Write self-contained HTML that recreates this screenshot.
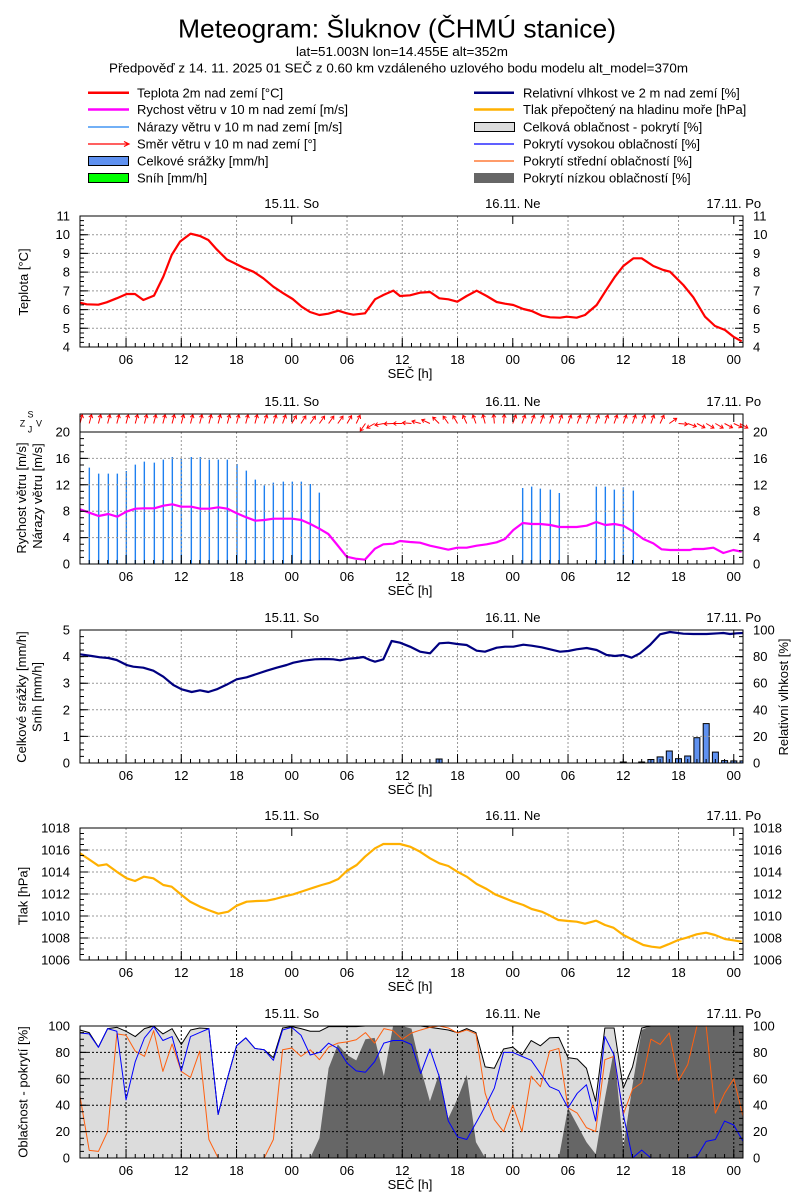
<!DOCTYPE html>
<html><head><meta charset="utf-8"><style>
html,body{margin:0;padding:0;background:#fff;}
svg{display:block;}
text{font-family:"Liberation Sans",Arial,sans-serif;fill:#000;}
.t13{font-size:13px;}
.yl{font-size:13px;text-anchor:end;}
.yr{font-size:13px;text-anchor:start;}
.xl{font-size:13px;text-anchor:middle;}
.nss{vector-effect:non-scaling-stroke;}
</style></head><body>
<svg width="800" height="1200" viewBox="0 0 800 1200" xmlns="http://www.w3.org/2000/svg">
<defs>
<g id="xb" stroke="#000" fill="none">
<line x1="80" y1="-2" x2="743" y2="-2" stroke-width="4" stroke-dasharray="1 8.208" stroke-dashoffset="0.5"/>
<line x1="80" y1="-4.5" x2="743" y2="-4.5" stroke-width="9" stroke-dasharray="1 54.248" stroke-dashoffset="9.708"/>
</g>
<path id="xt" d="M291.78,0v8M512.78,0v8M733.77,0v8" stroke="#000" fill="none"/>
<g id="xlab">
<text class="xl" x="126.04">06</text><text class="xl" x="181.29">12</text><text class="xl" x="236.54">18</text><text class="xl" x="291.78">00</text><text class="xl" x="347.03">06</text><text class="xl" x="402.28">12</text><text class="xl" x="457.53">18</text><text class="xl" x="512.78">00</text><text class="xl" x="568.02">06</text><text class="xl" x="623.27">12</text><text class="xl" x="678.52">18</text><text class="xl" x="733.77">00</text>
<text class="xl" x="410" y="14">SEČ [h]</text>
</g>
<g id="dlab">
<text class="xl" x="291.78">15.11. So</text><text class="xl" x="512.78">16.11. Ne</text><text class="xl" x="733.77">17.11. Po</text>
</g>
<path id="ar" d="M0,0V-9M-2,-6L0,-9L2,-6" stroke="#f00" stroke-width="1" fill="none"/>
</defs>
<rect width="800" height="1200" fill="#fff"/>

<!-- Header -->
<text x="397" y="37.5" style="font-size:26px" text-anchor="middle" textLength="438" lengthAdjust="spacingAndGlyphs">Meteogram: Šluknov (ČHMÚ stanice)</text>
<text x="402" y="56" class="t13" text-anchor="middle" textLength="212" lengthAdjust="spacingAndGlyphs">lat=51.003N lon=14.455E alt=352m</text>
<text x="398.5" y="72.5" class="t13" text-anchor="middle" textLength="579" lengthAdjust="spacingAndGlyphs">Předpověď z 14. 11. 2025 01 SEČ z 0.60 km vzdáleného uzlového bodu modelu alt_model=370m</text>

<!-- Legend -->
<g class="t13">
<line x1="88" y1="92.7" x2="129" y2="92.7" stroke="#f00" stroke-width="2.5"/>
<text x="137" y="97.3">Teplota 2m nad zemí [°C]</text>
<line x1="88" y1="109.5" x2="129" y2="109.5" stroke="#f0f" stroke-width="2.5"/>
<text x="137" y="114">Rychost větru v 10 m nad zemí [m/s]</text>
<line x1="88" y1="127" x2="129" y2="127" stroke="#1e80f0" stroke-width="1.2"/>
<text x="137" y="131.5">Nárazy větru v 10 m nad zemí [m/s]</text>
<path d="M88,144H128M124,141.5L129,144L124,146.5" stroke="#f00" stroke-width="1.2" fill="none"/>
<text x="137" y="148.5">Směr větru v 10 m nad zemí [°]</text>
<rect x="88.5" y="156.5" width="40" height="9" fill="#5f91f0" stroke="#000"/>
<text x="137" y="165.5">Celkové srážky [mm/h]</text>
<rect x="88.5" y="173.5" width="40" height="9" fill="#00ff00" stroke="#000"/>
<text x="137" y="182.5">Sníh [mm/h]</text>

<line x1="474" y1="92.7" x2="514" y2="92.7" stroke="#000080" stroke-width="2.5"/>
<text x="523" y="97.3">Relativní vlhkost ve 2 m nad zemí [%]</text>
<line x1="474" y1="109.5" x2="514" y2="109.5" stroke="#ffb000" stroke-width="2.5"/>
<text x="523" y="114">Tlak přepočtený na hladinu moře [hPa]</text>
<rect x="474.5" y="122.5" width="40" height="9" fill="#dcdcdc" stroke="#000"/>
<text x="523" y="131.5">Celková oblačnost - pokrytí [%]</text>
<line x1="474" y1="144" x2="514" y2="144" stroke="#0000ff" stroke-width="1.2"/>
<text x="523" y="148.5">Pokrytí vysokou oblačností [%]</text>
<line x1="474" y1="161" x2="514" y2="161" stroke="#ff6010" stroke-width="1.2"/>
<text x="523" y="165.5">Pokrytí střední oblačností [%]</text>
<rect x="474" y="173" width="40" height="10" fill="#666"/>
<text x="523" y="182.5">Pokrytí nízkou oblačností [%]</text>
</g>

<!-- ============ PANEL 1: Temperature ============ -->
<path d="M80,328.29H743M80,309.57H743M80,290.86H743M80,272.14H743M80,253.43H743M80,234.71H743M126.04,216V347M181.29,216V347M236.54,216V347M347.03,216V347M402.28,216V347M457.53,216V347M568.02,216V347M623.27,216V347M678.52,216V347" stroke="#999" stroke-dasharray="2 2" fill="none"/>
<g transform="translate(0,190) scale(0.333333)">
<polyline class="nss" fill="none" stroke="#f00" stroke-width="2.2" stroke-linejoin="round" points="240,338 260,343 295,344 320,337 350,325 380,312 405,312 430,330 462,317 490,260 515,195 540,155 572,131 600,138 625,150 650,178 680,208 700,218 730,233 760,245 790,265 820,290 850,310 878,327 905,350 930,366 958,375 985,371 1015,362 1040,370 1060,374 1095,370 1125,328 1150,315 1180,302 1200,318 1230,316 1260,308 1290,306 1318,325 1345,328 1372,335 1400,318 1430,302 1460,318 1490,336 1515,341 1540,345 1570,357 1595,363 1625,377 1650,382 1680,383 1700,380 1730,383 1755,375 1790,345 1820,298 1845,260 1870,228 1900,205 1925,205 1960,228 1990,240 2010,245 2050,285 2080,322 2115,380 2145,408 2175,420 2200,440 2225,454"/>
</g>
<rect x="80" y="216" width="663" height="131" fill="none" stroke="#000"/>
<use href="#xb" y="347"/><use href="#xt" y="216"/>
<g stroke="#000" fill="none">
<line x1="82" y1="347" x2="82" y2="216" stroke-width="4" stroke-dasharray="1 3.6785" stroke-dashoffset="0.5"/>
<line x1="84" y1="347" x2="84" y2="216" stroke-width="8" stroke-dasharray="1 17.714" stroke-dashoffset="0.5"/>
<line x1="741" y1="347" x2="741" y2="216" stroke-width="4" stroke-dasharray="1 3.6785" stroke-dashoffset="0.5"/>
<line x1="739" y1="347" x2="739" y2="216" stroke-width="8" stroke-dasharray="1 17.714" stroke-dashoffset="0.5"/>
</g>
<g>
<text class="yl" x="70" y="351.5">4</text><text class="yl" x="70" y="332.8">5</text><text class="yl" x="70" y="314.1">6</text><text class="yl" x="70" y="295.4">7</text><text class="yl" x="70" y="276.6">8</text><text class="yl" x="70" y="257.9">9</text><text class="yl" x="70" y="239.2">10</text><text class="yl" x="70" y="220.5">11</text>
<text class="yr" x="753" y="351.5">4</text><text class="yr" x="753" y="332.8">5</text><text class="yr" x="753" y="314.1">6</text><text class="yr" x="753" y="295.4">7</text><text class="yr" x="753" y="276.6">8</text><text class="yr" x="753" y="257.9">9</text><text class="yr" x="753" y="239.2">10</text><text class="yr" x="753" y="220.5">11</text>
</g>
<use href="#xlab" y="364"/><use href="#dlab" y="208"/>
<text class="t13" text-anchor="middle" transform="translate(28,282) rotate(-90)">Teplota [°C]</text>

<!-- ============ PANEL 2: Wind ============ -->
<g transform="translate(0,390) scale(0.333333)">
<path class="nss" stroke="#1e80f0" stroke-width="1.4" fill="none" d="M268,522V233M296,522V251M325,522V251M352,522V251M379,522V243M406,522V224M433,522V215M463,522V218M490,522V209M517,522V201M544,522V207M574,522V201M601,522V201M628,522V209M655,522V209M682,522V209M711,522V222M739,522V242M766,522V269M793,522V286M820,522V278M850,522V275M877,522V275M904,522V275M931,522V282M958,522V308M1568,522V294M1595,522V290M1621,522V296M1651,522V299M1678,522V309M1789,522V290M1816,522V290M1843,522V299M1870,522V292M1900,522V302"/>
</g>
<path d="M80,537.6H743M80,511.2H743M80,484.8H743M80,458.4H743M126.04,432V564M181.29,432V564M236.54,432V564M347.03,432V564M402.28,432V564M457.53,432V564M568.02,432V564M623.27,432V564M678.52,432V564" stroke="#999" stroke-dasharray="2 2" fill="none"/>
<g transform="translate(0,390) scale(0.333333)">
<polyline class="nss" fill="none" stroke="#f0f" stroke-width="2.2" stroke-linejoin="round" points="240,358 268,368 296,378 325,372 352,380 379,365 406,356 433,355 463,355 490,347 517,343 544,350 574,350 601,356 628,356 655,352 682,356 711,370 739,382 766,392 793,390 820,386 850,386 877,386 904,390 931,402 958,416 985,432 1012,465 1040,500 1067,506 1095,509 1125,476 1150,463 1180,461 1200,453 1230,456 1260,458 1290,467 1318,473 1345,479 1372,473 1400,473 1430,467 1460,463 1490,457 1515,447 1540,420 1568,399 1595,402 1621,402 1651,405 1678,411 1705,411 1730,411 1760,407 1789,396 1816,405 1843,402 1870,407 1900,425 1930,447 1960,460 1985,478 2010,480 2040,480 2070,480 2080,477 2110,477 2140,473 2170,489 2200,480 2225,485"/>
</g>
<!-- wind arrows -->
<g>
<use href="#ar" transform="translate(80,423.5) rotate(15)"/>
<use href="#ar" transform="translate(89.21,423.5) rotate(15)"/>
<use href="#ar" transform="translate(98.42,423.5) rotate(15)"/>
<use href="#ar" transform="translate(107.62,423.5) rotate(15)"/>
<use href="#ar" transform="translate(116.83,423.5) rotate(15)"/>
<use href="#ar" transform="translate(126.04,423.5) rotate(15)"/>
<use href="#ar" transform="translate(135.25,423.5) rotate(15)"/>
<use href="#ar" transform="translate(144.46,423.5) rotate(15)"/>
<use href="#ar" transform="translate(153.66,423.5) rotate(15)"/>
<use href="#ar" transform="translate(162.87,423.5) rotate(15)"/>
<use href="#ar" transform="translate(172.08,423.5) rotate(15)"/>
<use href="#ar" transform="translate(181.29,423.5) rotate(15)"/>
<use href="#ar" transform="translate(190.50,423.5) rotate(15)"/>
<use href="#ar" transform="translate(199.70,423.5) rotate(15)"/>
<use href="#ar" transform="translate(208.91,423.5) rotate(15)"/>
<use href="#ar" transform="translate(218.12,423.5) rotate(15)"/>
<use href="#ar" transform="translate(227.33,423.5) rotate(15)"/>
<use href="#ar" transform="translate(236.54,423.5) rotate(15)"/>
<use href="#ar" transform="translate(245.74,423.5) rotate(15)"/>
<use href="#ar" transform="translate(254.95,423.5) rotate(15)"/>
<use href="#ar" transform="translate(264.16,423.5) rotate(18)"/>
<use href="#ar" transform="translate(273.37,423.5) rotate(18)"/>
<use href="#ar" transform="translate(282.58,423.5) rotate(20)"/>
<use href="#ar" transform="translate(291.78,423.5) rotate(30)"/>
<use href="#ar" transform="translate(300.99,423.5) rotate(32)"/>
<use href="#ar" transform="translate(310.20,423.5) rotate(35)"/>
<use href="#ar" transform="translate(319.41,423.5) rotate(35)"/>
<use href="#ar" transform="translate(328.62,423.5) rotate(35)"/>
<use href="#ar" transform="translate(337.82,423.5) rotate(35)"/>
<use href="#ar" transform="translate(347.03,423.5) rotate(30)"/>
<use href="#ar" transform="translate(356.24,423.5) rotate(25)"/>
<use href="#ar" transform="translate(365.45,423.5) rotate(215)"/>
<use href="#ar" transform="translate(374.66,423.5) rotate(240)"/>
<use href="#ar" transform="translate(383.86,423.5) rotate(260)"/>
<use href="#ar" transform="translate(393.07,423.5) rotate(268)"/>
<use href="#ar" transform="translate(402.28,423.5) rotate(270)"/>
<use href="#ar" transform="translate(411.49,423.5) rotate(275)"/>
<use href="#ar" transform="translate(420.70,423.5) rotate(285)"/>
<use href="#ar" transform="translate(429.90,423.5) rotate(295)"/>
<use href="#ar" transform="translate(439.11,423.5) rotate(315)"/>
<use href="#ar" transform="translate(448.32,423.5) rotate(325)"/>
<use href="#ar" transform="translate(457.53,423.5) rotate(330)"/>
<use href="#ar" transform="translate(466.74,423.5) rotate(335)"/>
<use href="#ar" transform="translate(475.94,423.5) rotate(340)"/>
<use href="#ar" transform="translate(485.15,423.5) rotate(345)"/>
<use href="#ar" transform="translate(494.36,423.5) rotate(355)"/>
<use href="#ar" transform="translate(503.57,423.5) rotate(5)"/>
<use href="#ar" transform="translate(512.78,423.5) rotate(20)"/>
<use href="#ar" transform="translate(521.98,423.5) rotate(20)"/>
<use href="#ar" transform="translate(531.19,423.5) rotate(20)"/>
<use href="#ar" transform="translate(540.40,423.5) rotate(20)"/>
<use href="#ar" transform="translate(549.61,423.5) rotate(20)"/>
<use href="#ar" transform="translate(558.82,423.5) rotate(20)"/>
<use href="#ar" transform="translate(568.02,423.5) rotate(20)"/>
<use href="#ar" transform="translate(577.23,423.5) rotate(20)"/>
<use href="#ar" transform="translate(586.44,423.5) rotate(20)"/>
<use href="#ar" transform="translate(595.65,423.5) rotate(20)"/>
<use href="#ar" transform="translate(604.86,423.5) rotate(20)"/>
<use href="#ar" transform="translate(614.06,423.5) rotate(20)"/>
<use href="#ar" transform="translate(623.27,423.5) rotate(20)"/>
<use href="#ar" transform="translate(632.48,423.5) rotate(20)"/>
<use href="#ar" transform="translate(641.69,423.5) rotate(20)"/>
<use href="#ar" transform="translate(650.90,423.5) rotate(20)"/>
<use href="#ar" transform="translate(660.10,423.5) rotate(25)"/>
<use href="#ar" transform="translate(669.31,423.5) rotate(55)"/>
<use href="#ar" transform="translate(678.52,423.5) rotate(95)"/>
<use href="#ar" transform="translate(687.73,423.5) rotate(110)"/>
<use href="#ar" transform="translate(696.94,423.5) rotate(118)"/>
<use href="#ar" transform="translate(706.14,423.5) rotate(120)"/>
<use href="#ar" transform="translate(715.35,423.5) rotate(120)"/>
<use href="#ar" transform="translate(724.56,423.5) rotate(118)"/>
<use href="#ar" transform="translate(733.77,423.5) rotate(115)"/>
<use href="#ar" transform="translate(740,423.5) rotate(120)"/>
</g>
<rect x="80" y="414" width="663" height="150" fill="none" stroke="#000"/>
<line x1="80" y1="432" x2="743" y2="432" stroke="#000"/>
<use href="#xb" y="564"/><use href="#xt" y="414"/>
<g stroke="#000" fill="none">
<line x1="82" y1="564" x2="82" y2="432" stroke-width="4" stroke-dasharray="1 5.6" stroke-dashoffset="0.5"/>
<line x1="84" y1="564" x2="84" y2="432" stroke-width="8" stroke-dasharray="1 25.4" stroke-dashoffset="0.5"/>
<line x1="741" y1="564" x2="741" y2="432" stroke-width="4" stroke-dasharray="1 5.6" stroke-dashoffset="0.5"/>
<line x1="739" y1="564" x2="739" y2="432" stroke-width="8" stroke-dasharray="1 25.4" stroke-dashoffset="0.5"/>
</g>
<g>
<text class="yl" x="70" y="568.5">0</text><text class="yl" x="70" y="542.1">4</text><text class="yl" x="70" y="515.7">8</text><text class="yl" x="70" y="489.3">12</text><text class="yl" x="70" y="462.9">16</text><text class="yl" x="70" y="436.5">20</text>
<text class="yr" x="753" y="568.5">0</text><text class="yr" x="753" y="542.1">4</text><text class="yr" x="753" y="515.7">8</text><text class="yr" x="753" y="489.3">12</text><text class="yr" x="753" y="462.9">16</text><text class="yr" x="753" y="436.5">20</text>
</g>
<use href="#xlab" y="581"/><use href="#dlab" y="406"/>
<g style="font-size:9px" text-anchor="middle">
<text x="30.5" y="417.5">S</text><text x="22.5" y="426.5">Z</text><text x="30" y="432.5">J</text><text x="39" y="426.5">V</text>
</g>
<text class="t13" text-anchor="middle" transform="translate(26,498) rotate(-90)">Rychost větru [m/s]</text>
<text class="t13" text-anchor="middle" transform="translate(42,496) rotate(-90)">Nárazy větru [m/s]</text>

<!-- ============ PANEL 3: Precip / RH ============ -->
<g fill="#5f91f0" stroke="#000" stroke-width="1">
<rect x="436.1" y="759" width="6" height="4"/>
<rect x="620.3" y="762" width="6" height="1"/>
<rect x="638.7" y="762" width="6" height="1"/>
<rect x="647.9" y="759.5" width="6" height="3.5"/>
<rect x="657.1" y="756.9" width="6" height="6.1"/>
<rect x="666.3" y="751" width="6" height="12"/>
<rect x="675.5" y="758.7" width="6" height="4.3"/>
<rect x="684.7" y="756" width="6" height="7"/>
<rect x="693.9" y="737.7" width="6" height="25.3"/>
<rect x="703.2" y="723.6" width="6" height="39.4"/>
<rect x="712.4" y="752.1" width="6" height="10.9"/>
<rect x="721.6" y="760.6" width="6" height="2.4"/>
<rect x="730.8" y="760.9" width="6" height="2.1"/>
<rect x="740" y="760.9" width="3" height="2.1"/>
</g>
<path d="M80,736.4H743M80,709.8H743M80,683.2H743M80,656.6H743M126.04,630V763M181.29,630V763M236.54,630V763M347.03,630V763M402.28,630V763M457.53,630V763M568.02,630V763M623.27,630V763M678.52,630V763" stroke="#999" stroke-dasharray="2 2" fill="none"/>
<g transform="translate(0,600) scale(0.333333)">
<polyline class="nss" fill="none" stroke="#000080" stroke-width="2.2" stroke-linejoin="round" points="240,163 275,168 300,172 325,174 350,180 380,195 400,200 430,203 460,212 490,230 520,255 545,268 575,276 600,271 625,276 650,268 680,254 710,238 740,232 770,222 800,212 830,203 860,195 880,188 910,182 945,178 975,177 1000,178 1020,181 1045,176 1070,174 1090,171 1110,180 1125,185 1150,178 1175,123 1200,128 1230,140 1260,155 1290,160 1318,130 1345,128 1372,132 1400,135 1430,152 1455,155 1490,143 1515,140 1540,140 1570,134 1595,137 1625,142 1650,148 1680,155 1705,153 1730,148 1760,144 1790,150 1820,165 1845,168 1870,165 1895,173 1920,160 1950,135 1980,103 2010,96 2050,101 2080,102 2120,102 2155,100 2170,99 2190,102 2210,100 2230,99"/>
</g>
<rect x="80" y="630" width="663" height="133" fill="none" stroke="#000"/>
<use href="#xb" y="763"/><use href="#xt" y="630"/>
<g stroke="#000" fill="none">
<line x1="82" y1="763" x2="82" y2="630" stroke-width="4" stroke-dasharray="1 5.65" stroke-dashoffset="0.5"/>
<line x1="84" y1="763" x2="84" y2="630" stroke-width="8" stroke-dasharray="1 25.6" stroke-dashoffset="0.5"/>
<line x1="741" y1="763" x2="741" y2="630" stroke-width="4" stroke-dasharray="1 5.65" stroke-dashoffset="0.5"/>
<line x1="739" y1="763" x2="739" y2="630" stroke-width="8" stroke-dasharray="1 25.6" stroke-dashoffset="0.5"/>
</g>
<g>
<text class="yl" x="70" y="767.5">0</text><text class="yl" x="70" y="740.9">1</text><text class="yl" x="70" y="714.3">2</text><text class="yl" x="70" y="687.7">3</text><text class="yl" x="70" y="661.1">4</text><text class="yl" x="70" y="634.5">5</text>
<text class="yr" x="753" y="767.5">0</text><text class="yr" x="753" y="740.9">20</text><text class="yr" x="753" y="714.3">40</text><text class="yr" x="753" y="687.7">60</text><text class="yr" x="753" y="661.1">80</text><text class="yr" x="753" y="634.5">100</text>
</g>
<use href="#xlab" y="780"/><use href="#dlab" y="622"/>
<text class="t13" text-anchor="middle" transform="translate(26,697) rotate(-90)">Celkové srážky [mm/h]</text>
<text class="t13" text-anchor="middle" transform="translate(41.5,697) rotate(-90)">Sníh [mm/h]</text>
<text class="t13" text-anchor="middle" transform="translate(788,697) rotate(-90)">Relativní vlhkost [%]</text>

<!-- ============ PANEL 4: Pressure ============ -->
<path d="M80,938H743M80,916H743M80,894H743M80,872H743M80,850H743M126.04,828V960M181.29,828V960M236.54,828V960M347.03,828V960M402.28,828V960M457.53,828V960M568.02,828V960M623.27,828V960M678.52,828V960" stroke="#999" stroke-dasharray="2 2" fill="none"/>
<g transform="translate(0,805) scale(0.333333)">
<polyline class="nss" fill="none" stroke="#ffb000" stroke-width="2.2" stroke-linejoin="round" points="240,145 270,165 295,182 320,178 350,200 380,220 405,228 432,215 460,220 490,240 515,245 545,270 570,290 600,305 625,315 655,326 685,320 710,302 740,290 770,288 800,287 825,282 850,275 880,268 910,258 940,248 965,240 990,233 1015,222 1040,198 1070,180 1095,155 1125,130 1150,117 1200,117 1230,125 1260,140 1290,160 1318,175 1345,183 1372,200 1400,215 1430,237 1460,252 1485,268 1515,280 1540,290 1570,300 1595,312 1625,320 1650,332 1675,345 1705,348 1730,350 1755,356 1788,347 1815,360 1840,368 1870,390 1900,405 1930,420 1955,425 1980,428 2005,418 2035,405 2060,398 2090,388 2118,383 2145,390 2175,402 2200,406 2225,410"/>
</g>
<rect x="80" y="828" width="663" height="132" fill="none" stroke="#000"/>
<use href="#xb" y="960"/><use href="#xt" y="828"/>
<g stroke="#000" fill="none">
<line x1="82" y1="960" x2="82" y2="828" stroke-width="4" stroke-dasharray="1 4.5" stroke-dashoffset="0.5"/>
<line x1="84" y1="960" x2="84" y2="828" stroke-width="8" stroke-dasharray="1 21" stroke-dashoffset="0.5"/>
<line x1="741" y1="960" x2="741" y2="828" stroke-width="4" stroke-dasharray="1 4.5" stroke-dashoffset="0.5"/>
<line x1="739" y1="960" x2="739" y2="828" stroke-width="8" stroke-dasharray="1 21" stroke-dashoffset="0.5"/>
</g>
<g>
<text class="yl" x="70" y="964.5">1006</text><text class="yl" x="70" y="942.5">1008</text><text class="yl" x="70" y="920.5">1010</text><text class="yl" x="70" y="898.5">1012</text><text class="yl" x="70" y="876.5">1014</text><text class="yl" x="70" y="854.5">1016</text><text class="yl" x="70" y="832.5">1018</text>
<text class="yr" x="753" y="964.5">1006</text><text class="yr" x="753" y="942.5">1008</text><text class="yr" x="753" y="920.5">1010</text><text class="yr" x="753" y="898.5">1012</text><text class="yr" x="753" y="876.5">1014</text><text class="yr" x="753" y="854.5">1016</text><text class="yr" x="753" y="832.5">1018</text>
</g>
<use href="#xlab" y="977"/><use href="#dlab" y="820"/>
<text class="t13" text-anchor="middle" transform="translate(27.5,896) rotate(-90)">Tlak [hPa]</text>

<!-- ============ PANEL 5: Clouds ============ -->
<g transform="translate(80,1158) scale(9.208,-1.32)">
<polygon fill="#dcdcdc" points="0,0 0,97 1,95 2,84 3,98 4,99 5,96 6,92 7,98 8,100 9,94 10,98 11,86 12,97 13,98.5 14,98 15,33 16,60 17,85 18,91 19,83 20,82 21,76 22,98.5 23,99.5 24,98 25,96 26,96 27,99.5 28,99.5 29,99.5 30,99.5 31,100 32,100 33,100 34,100 35,100 36,100 37,100 38,99 39,98 40,97 41,95 42,98 43,95 44,69 45,68 46,82.6 47,84 48,78 49,89 50,85 51,91 52,91.4 53,76 54,75 55,68 56,43 57,98.5 58,98.5 59,53 60,69 61,98.5 62,100 72,100 72,0"/>
<polygon fill="#666" points="0,0 25,0 26,15 27,68 28,86 29,78 30,74 31,90 32,91 33,62 34,100 35,100 36,98 37,68 38,43 39,64 40,30 41,45 42,63 43,12 44,0 52,0 53,38 54,25 55,12 56,3 57,45 58,82 59,8 60,55 61,97 62,100 72,100 72,0"/>
</g>
<path d="M80,1131.6H743M80,1105.2H743M80,1078.8H743M80,1052.4H743M126.04,1026V1158M181.29,1026V1158M236.54,1026V1158M291.78,1026V1158M347.03,1026V1158M402.28,1026V1158M457.53,1026V1158M512.78,1026V1158M568.02,1026V1158M623.27,1026V1158M678.52,1026V1158M733.77,1026V1158" stroke="#000" stroke-dasharray="2 2" fill="none"/>
<g transform="translate(80,1158) scale(9.208,-1.32)" fill="none" stroke-linejoin="round">
<polyline class="nss" stroke="#000" stroke-width="1" points="0,97 1,95 2,84 3,98 4,99 5,96 6,92 7,98 8,100 9,94 10,98 11,86 12,97 13,98.5 14,98 15,33 16,60 17,85 18,91 19,83 20,82 21,76 22,98.5 23,99.5 24,98 25,96 26,96 27,99.5 28,99.5 29,99.5 30,99.5 31,100 32,100 33,100 34,100 35,100 36,100 37,100 38,99 39,98 40,97 41,95 42,98 43,95 44,69 45,68 46,82.6 47,84 48,78 49,89 50,85 51,91 52,91.4 53,76 54,75 55,68 56,43 57,98.5 58,98.5 59,53 60,69 61,98.5 62,100 72,100"/>
<polyline class="nss" stroke="#ff6010" stroke-width="1" points="0,46.7 1,5.8 2,5 3,20 4,94 5,93 6,81 7,77 8,96.5 9,65.6 10,86.4 11,65.6 12,61 13,81 14,14 15,0 20,0 21,14 22,82 23,83.3 24,77 25,82 26,74.5 27,84 28,87 29,88 30,89.6 31,95 32,87 33,98 34,96.5 35,90 36,94.7 37,97 38,99 39,100 40,98.5 41,94.7 42,97 43,94 44,49 45,29 46,20 47,40 48,20 49,62 50,54 51,81 52,83 53,38 54,34 55,23 56,20 57,74.5 58,77 59,33 60,52 61,57 62,90 63,86 64,94.7 65,58.6 66,70.7 67,100 68,100 69,34 70,49 71,60 72,31.6"/>
<polyline class="nss" stroke="#0000ff" stroke-width="1" points="0,94.7 1,94 2,83.8 3,98 4,96 5,44 6,73 7,91 8,99.5 9,89 10,92 11,66 12,92 13,95 14,98 15,33 16,60 17,85 18,91 19,83 20,82 21,74 22,97 23,99 24,93 25,78 26,80 27,87 28,83 29,72 30,66 31,65 32,73 33,87 34,89 35,89 36,86 37,64 38,82.6 39,62 40,28 41,16 42,14 43,26.5 44,39 45,53 46,80 47,80 48,77 49,74 50,64 51,54 52,51 53,38 54,49 55,55.5 56,28 57,92 58,78 59,33 60,0 61,6 62,0 66,0 67,1 68,12.6 69,14 70,28 71,25 72,12.6"/>
</g>
<rect x="80" y="1026" width="663" height="132" fill="none" stroke="#000"/>
<use href="#xb" y="1158"/><use href="#xt" y="1026"/>
<g stroke="#000" fill="none">
<line x1="82" y1="1158" x2="82" y2="1026" stroke-width="4" stroke-dasharray="1 5.6" stroke-dashoffset="0.5"/>
<line x1="84" y1="1158" x2="84" y2="1026" stroke-width="8" stroke-dasharray="1 25.4" stroke-dashoffset="0.5"/>
<line x1="741" y1="1158" x2="741" y2="1026" stroke-width="4" stroke-dasharray="1 5.6" stroke-dashoffset="0.5"/>
<line x1="739" y1="1158" x2="739" y2="1026" stroke-width="8" stroke-dasharray="1 25.4" stroke-dashoffset="0.5"/>
</g>
<g>
<text class="yl" x="70" y="1162.5">0</text><text class="yl" x="70" y="1136.1">20</text><text class="yl" x="70" y="1109.7">40</text><text class="yl" x="70" y="1083.3">60</text><text class="yl" x="70" y="1056.9">80</text><text class="yl" x="70" y="1030.5">100</text>
<text class="yr" x="753" y="1162.5">0</text><text class="yr" x="753" y="1136.1">20</text><text class="yr" x="753" y="1109.7">40</text><text class="yr" x="753" y="1083.3">60</text><text class="yr" x="753" y="1056.9">80</text><text class="yr" x="753" y="1030.5">100</text>
</g>
<use href="#xlab" y="1175"/><use href="#dlab" y="1018"/>
<text class="t13" text-anchor="middle" transform="translate(27.5,1092) rotate(-90)">Oblačnost - pokrytí [%]</text>
</svg>
</body></html>
